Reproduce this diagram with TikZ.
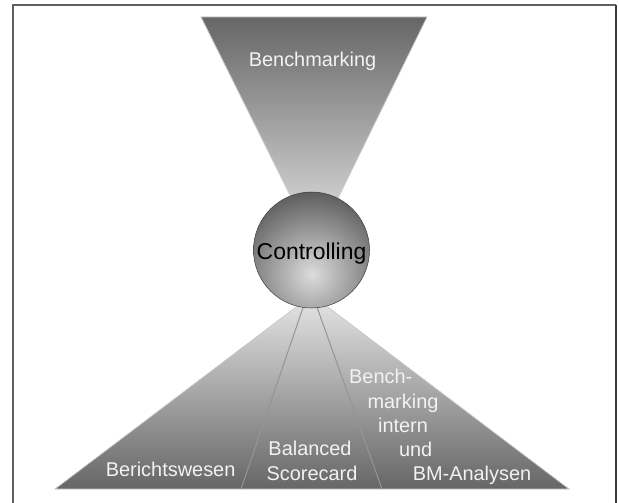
\documentclass[tikz,border=0pt]{standalone}
\usepackage{fontspec}
\newfontfamily\arial{Liberation Sans}
\definecolor{frameline}{HTML}{606060}
\definecolor{frameright}{HTML}{3A3A3A}
\definecolor{conedark}{HTML}{666666}
\definecolor{conemid}{HTML}{A6A6A6}
\definecolor{conelight}{HTML}{E6E6E6}
\definecolor{coneedge}{HTML}{C8C8C8}
\definecolor{divider}{HTML}{959595}
\definecolor{ballhi}{HTML}{DCDCDC}
\definecolor{ballrim}{HTML}{4E4E4E}
\definecolor{labeltext}{HTML}{F2F2F2}
\tikzset{
  lbl/.style={font=\arial\fontsize{20}{24}\selectfont, text=labeltext,
              anchor=base, inner sep=0pt},
  hub/.style={circle, minimum size=116bp, inner sep=0pt},
  hubtext/.style={font=\arial\fontsize{23}{26}\selectfont, text=black,
                  anchor=base, inner sep=0pt},
  cone/.style={draw=coneedge, line width=0.7bp},
  divline/.style={draw=divider, line width=1bp},
}
\begin{document}
\begin{tikzpicture}[x=1bp, y=-1bp]
  \useasboundingbox (0,0) rectangle (619,503);
  % outer frame (open at the bottom)
  \draw[frameline, line width=2bp] (12.7,503) -- (12.7,5) -- (615.5,5);
  \draw[frameright, line width=2bp] (615.5,5) -- (615.5,503);

  % corner points of the two cones
  \coordinate (tl) at (201,17);
  \coordinate (tr) at (427,17);
  \coordinate (tapex) at (315,245);
  \coordinate (bl) at (55,489);
  \coordinate (br) at (569,489);
  \coordinate (bapex) at (312,295);
  \coordinate (d1top) at (307,296);
  \coordinate (d1bot) at (241,489);
  \coordinate (d2top) at (313,296);
  \coordinate (d2bot) at (382,489);

  % upper cone
  \shade[cone, top color=conedark, bottom color=conelight, middle color=conemid]
    (tl) -- (tr) -- (tapex) -- cycle;

  % lower cone with its three sectors
  \shade[cone, top color=conelight, bottom color=conedark, middle color=conemid]
    (bapex) -- (br) -- (bl) -- cycle;
  \draw[divline] (d1top) -- (d1bot);
  \draw[divline] (d2top) -- (d2bot);

  % central ball
  \node[hub] (ctrl) at (311.5,250) {};
  \begin{scope}
    \clip (ctrl.center) circle[radius=58];
    \shade[inner color=ballhi, outer color=ballrim] (312,274) circle[radius=92];
  \end{scope}
  \draw[ballrim!80!black, line width=0.5bp] (ctrl.center) circle[radius=58];
  \node[hubtext] (ctrltext) at (311.5,259.5) {Controlling};

  % labels
  \node[lbl] (bench) at (312.5,66.7) {Benchmarking};
  \node[lbl] (bericht) at (170.6,476) {Berichtswesen};
  \node[lbl] (bal1) at (310,455.5) {Balanced};
  \node[lbl] (bal2) at (312,480) {Scorecard};
  \node[lbl] (bm1) at (380.7,383.3) {Bench-};
  \node[lbl] (bm2) at (403,408) {marking};
  \node[lbl] (bm3) at (403,432.5) {intern};
  \node[lbl] (bm4) at (415.7,456.7) {und};
  \node[lbl] (bm5) at (472,480.7) {BM-Analysen};
\end{tikzpicture}
\end{document}
